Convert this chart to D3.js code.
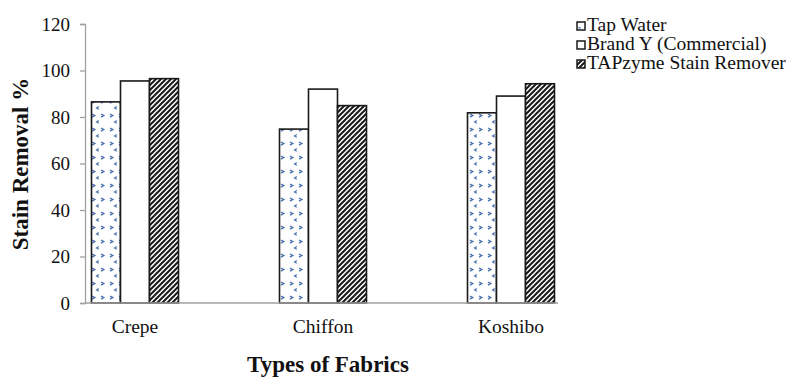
<!DOCTYPE html>
<html>
<head>
<meta charset="utf-8">
<script src="https://cdn.jsdelivr.net/npm/d3@7"></script>
<style>
  body { margin: 0; background: #fff; }
  text { font-family: 'Liberation Serif', 'Times New Roman', serif; }
</style>
</head>
<body>
<div id="chart"></div>
<script>
// Data
var fabrics = ['Crepe', 'Chiffon', 'Koshibo']
var seriesNames = ['Tap Water', 'Brand Y (Commercial)', 'TAPzyme Stain Remover']
var tapWater = [86.5, 74.8, 81.8]
var brandY = [95.5, 92, 89]
var tapzyme = [96.5, 84.9, 94.3]
var yTicks = [0, 20, 40, 60, 80, 100, 120]

var width = 796
var height = 377

var svg = d3.select('#chart')
  .append('svg')
  .attr('width', width)
  .attr('height', height)

// Patterns
var defs = svg.append('defs')

var dots = defs.append('pattern')
  .attr('id', 'dots')
  .attr('patternUnits', 'userSpaceOnUse')
  .attr('width', 18)
  .attr('height', 14)
dots.append('rect').attr('width', 18).attr('height', 14).attr('fill', '#fff')
dots.append('path')
  .attr('d', 'M2,2 L4.8,3.6 L2,5.2 M11,2 L13.8,3.6 L11,5.2')
  .attr('stroke', '#4a72b0').attr('stroke-width', 1.4).attr('fill', 'none')
dots.append('path')
  .attr('d', 'M8.8,8.6 L6.6,9.9 L8.8,11.2')
  .attr('stroke', '#4a72b0').attr('stroke-width', 1.2).attr('fill', 'none')

var stripes = defs.append('pattern')
  .attr('id', 'stripes')
  .attr('patternUnits', 'userSpaceOnUse')
  .attr('width', 5)
  .attr('height', 5)
stripes.append('rect').attr('width', 5).attr('height', 5).attr('fill', '#fff')
stripes.append('path')
  .attr('d', 'M-1,6 L6,-1 M-1,1 L1,-1 M4,6 L6,4')
  .attr('stroke', '#1a1a1a').attr('stroke-width', 2)

var fills = ['url(#dots)', '#fff', 'url(#stripes)']

// Scales
var yPositionScale = d3.scaleLinear()
  .domain([0, 120])
  .range([303, 24])

var xPositionScale = d3.scaleBand()
  .domain(fabrics)
  .range([41, 605])

var barScale = d3.scaleBand()
  .domain(seriesNames)
  .range([0, 87])

var axisLeftX = 85
var axisRightX = 558

// Bars
var series = [tapWater, brandY, tapzyme]
series.forEach(function (values, i) {
  svg.append('g')
    .selectAll('rect')
    .data(values)
    .enter()
    .append('rect')
    .attr('x', function (d, j) {
      var center = xPositionScale(fabrics[j]) + xPositionScale.bandwidth() / 2
      return center - 43.5 + barScale(seriesNames[i])
    })
    .attr('y', d => yPositionScale(d))
    .attr('width', barScale.bandwidth())
    .attr('height', d => yPositionScale(0) - yPositionScale(d))
    .attr('fill', fills[i])
    .attr('stroke', '#1a1a1a')
    .attr('stroke-width', 1.6)
})

// Y axis
var yAxis = d3.axisLeft(yPositionScale).tickValues(yTicks).tickSize(5).tickPadding(10)
var yg = svg.append('g')
  .attr('transform', 'translate(' + axisLeftX + ',0)')
  .call(yAxis)
yg.select('.domain').attr('stroke', '#a0a0a0').attr('stroke-width', 1.3)
yg.selectAll('.tick line').attr('stroke', '#a0a0a0').attr('stroke-width', 1.3)
yg.selectAll('.tick text')
  .attr('font-family', 'Liberation Serif')
  .attr('font-size', 19)
  .attr('fill', '#111')

// X axis baseline
svg.append('line')
  .attr('x1', axisLeftX)
  .attr('x2', axisRightX)
  .attr('y1', yPositionScale(0))
  .attr('y2', yPositionScale(0))
  .attr('stroke', '#a0a0a0')
  .attr('stroke-width', 1.6)

// Category labels
svg.append('g')
  .selectAll('text')
  .data(fabrics)
  .enter()
  .append('text')
  .attr('x', d => xPositionScale(d) + xPositionScale.bandwidth() / 2)
  .attr('y', 333)
  .attr('text-anchor', 'middle')
  .attr('font-size', 19.5)
  .attr('fill', '#111')
  .text(d => d)

// Axis titles
svg.append('text')
  .attr('x', 328)
  .attr('y', 372)
  .attr('text-anchor', 'middle')
  .attr('font-size', 23)
  .attr('font-weight', 'bold')
  .attr('fill', '#111')
  .text('Types of Fabrics')

svg.append('text')
  .attr('transform', 'translate(28,164) rotate(-90)')
  .attr('text-anchor', 'middle')
  .attr('font-size', 23)
  .attr('font-weight', 'bold')
  .attr('fill', '#111')
  .text('Stain Removal %')

// Legend
var legend = svg.append('g')
  .attr('transform', 'translate(577,22)')

seriesNames.forEach(function (name, i) {
  var row = legend.append('g').attr('transform', 'translate(0,' + i * 19 + ')')
  row.append('rect')
    .attr('x', 0)
    .attr('y', 0)
    .attr('width', 8)
    .attr('height', 8)
    .attr('fill', i === 0 ? '#fff' : fills[i])
    .attr('stroke', '#1a1a1a')
    .attr('stroke-width', 1.5)
  if (i === 0) {
    row.append('rect')
      .attr('x', 1.5).attr('y', 5).attr('width', 2).attr('height', 1.5)
      .attr('fill', '#4a72b0')
  }
  row.append('text')
    .attr('x', 10)
    .attr('y', 9)
    .attr('font-size', 19.5)
    .attr('fill', '#111')
    .text(name)
})
</script>
</body>
</html>
